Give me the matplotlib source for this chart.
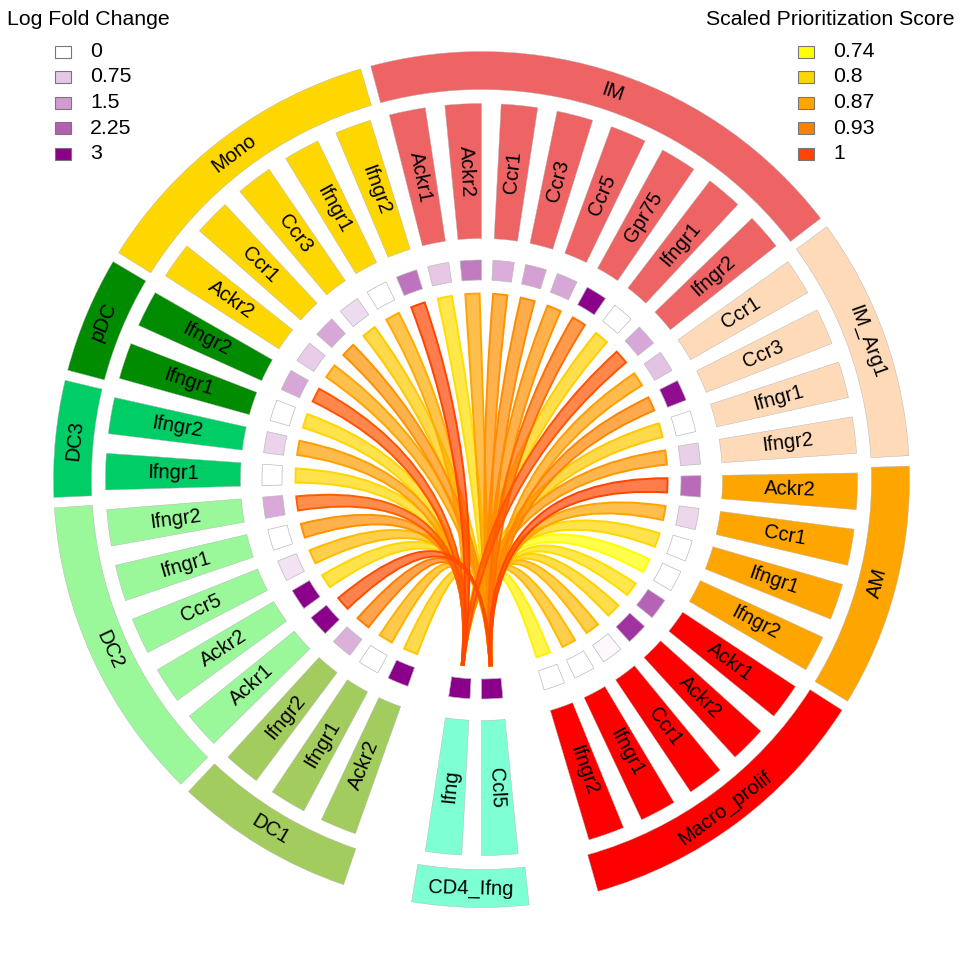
import numpy as np
import matplotlib
matplotlib.use("Agg")
import matplotlib.pyplot as plt
from matplotlib.patches import Wedge, PathPatch, Rectangle
from matplotlib.path import Path
from matplotlib.colors import LinearSegmentedColormap, to_rgba

plt.rcParams['font.family'] = ['Liberation Sans', 'DejaVu Sans']

# cell types, clockwise from the sender (ligand) sector at the bottom
sectors = ['CD4_Ifng', 'DC1', 'DC2', 'DC3', 'pDC', 'Mono', 'IM', 'IM_Arg1', 'AM', 'Macro_prolif']
sector_colors = ['#7FFFD4', '#A3CC5E', '#9AF89A', '#00CD66', '#008B00', '#FFD700',
                 '#EE6363', '#FFDAB9', '#FFA500', '#FF0000']
genes_per_sector = [2, 3, 5, 2, 2, 5, 8, 4, 4, 5]

genes = ['Ccl5', 'Ifng',
         'Ackr2', 'Ifngr1', 'Ifngr2',
         'Ackr1', 'Ackr2', 'Ccr5', 'Ifngr1', 'Ifngr2',
         'Ifngr1', 'Ifngr2',
         'Ifngr1', 'Ifngr2',
         'Ackr2', 'Ccr1', 'Ccr3', 'Ifngr1', 'Ifngr2',
         'Ackr1', 'Ackr2', 'Ccr1', 'Ccr3', 'Ccr5', 'Gpr75', 'Ifngr1', 'Ifngr2',
         'Ccr1', 'Ccr3', 'Ifngr1', 'Ifngr2',
         'Ackr2', 'Ccr1', 'Ifngr1', 'Ifngr2',
         'Ackr1', 'Ackr2', 'Ccr1', 'Ifngr1', 'Ifngr2']

log_fc = [3.0, 3.0,
          3.0, 0.0, 1.15,
          3.0, 3.0, 0.4, 0.0, 1.25,
          0.0, 0.6,
          0.0, 1.3,
          0.7, 1.3, 0.5, 0.0, 2.0,
          0.75, 1.9, 1.2, 1.4, 1.3, 3.0, 0.0, 1.3,
          0.85, 2.9, 0.0, 0.65,
          2.1, 0.55, 0.0, 0.0,
          2.2, 2.6, 0.1, 0.0, 0.0]

# scaled prioritization score of the link into each receptor (ligands: None)
prior_score = [None, None,
               0.82, 0.85, 0.93,
               0.99, 0.80, 0.84, 0.90, 0.97,
               0.80, 0.88,
               0.80, 0.98,
               0.87, 0.90, 0.82, 0.86, 1.00,
               0.79, 0.87, 0.90, 0.91, 0.90, 0.95, 0.81, 0.98,
               0.88, 0.92, 0.82, 0.89,
               1.00, 0.87, 0.80, 0.74,
               0.79, 0.81, 0.84, 0.84, 0.76]

lfc_ticks = [0, 0.75, 1.5, 2.25, 3]
lfc_tick_colors = ['#FFFFFF', '#E6C8E6', '#D29BD2', '#B35FB3', '#8B008B']
score_ticks = [0.74, 0.8, 0.87, 0.93, 1]
score_tick_colors = ['#FFFF00', '#FFD700', '#FFA500', '#FF7F00', '#FF4500']

lfc_cmap = LinearSegmentedColormap.from_list(
    'lfc', [(v / 3, c) for v, c in zip(lfc_ticks, lfc_tick_colors)])
s0, s1 = score_ticks[0], score_ticks[-1]
score_cmap = LinearSegmentedColormap.from_list(
    'score', [((v - s0) / (s1 - s0), c) for v, c in zip(score_ticks, score_tick_colors)])

# layout (pixels)
W, H = 962, 960
cx, cy = 481.5, 479.5
gene_w, gap_gene, gap_big = 5.6, 3.0, 11.0
start = 275.6
R_ring_out, R_ring_in = 428, 390
R_box_out, R_box_in = 376, 241
R_lfc_out, R_lfc_in = 219.5, 199.5
R_link = 186

spans = []
gene_sector = []
theta = start
for k, n in enumerate(genes_per_sector):
    if k == 1:
        theta -= gap_big
    elif k > 0:
        theta -= gap_gene
    for j in range(n):
        if j > 0:
            theta -= gap_gene
        spans.append((theta - gene_w, theta))
        gene_sector.append(k)
        theta -= gene_w


def pol(r, a):
    t = np.radians(a)
    return np.array([r * np.cos(t), r * np.sin(t)])


def px(x, y):
    return x - cx, cy - y


def ctrl(p, q, h):
    # control point of a quadratic curve whose middle sits h away from chord p-q
    m = (p + q) / 2
    d = np.hypot(*m)
    if d < 1e-6:
        return m
    return m - 2 * h * m / d


fig = plt.figure(figsize=(W / 100, H / 100), dpi=100)
ax = fig.add_axes([0, 0, 1, 1])
ax.set_xlim(-cx, W - cx)
ax.set_ylim(-(H - cy), cy)
ax.axis('off')

# outer cell type ring
for k, name in enumerate(sectors):
    idx = [i for i, s in enumerate(gene_sector) if s == k]
    lo = spans[idx[-1]][0] - 0.8
    hi = spans[idx[0]][1] + 0.8
    ax.add_patch(Wedge((0, 0), R_ring_out, lo, hi, width=R_ring_out - R_ring_in,
                       facecolor=sector_colors[k], edgecolor='#B0B0B0', lw=0.3))
    m = (lo + hi) / 2 % 360
    rot = m - 90 if m <= 180 else m + 90
    x, y = pol((R_ring_out + R_ring_in) / 2, m)
    ax.text(x, y, name, rotation=rot, rotation_mode='anchor', ha='center',
            va='center', fontsize=14.5)

# gene boxes and log fold change cells
for i, g in enumerate(genes):
    lo, hi = spans[i]
    ax.add_patch(Wedge((0, 0), R_box_out, lo, hi, width=R_box_out - R_box_in,
                       facecolor=sector_colors[gene_sector[i]], edgecolor='#B0B0B0', lw=0.3))
    m = (lo + hi) / 2 % 360
    rot = m - 180 if 90 < m < 270 else m
    x, y = pol((R_box_out + R_box_in) / 2, m)
    ax.text(x, y, g, rotation=rot, rotation_mode='anchor', ha='center',
            va='center', fontsize=14.5)
    ax.add_patch(Wedge((0, 0), R_lfc_out, lo, hi, width=R_lfc_out - R_lfc_in,
                       facecolor=lfc_cmap(min(log_fc[i], 3) / 3), edgecolor='#BBBBBB', lw=0.5))

# links ligand -> receptor
lig_mid = {g: (spans[i][0] + spans[i][1]) / 2 for i, g in enumerate(genes[:2])}
order = sorted(range(2, len(genes)), key=lambda i: prior_score[i])
for i in order:
    lo, hi = spans[i]
    m = (lo + hi) / 2
    a1, a2 = m - 2.2, m + 2.2
    lig = 'Ifng' if genes[i].startswith('Ifngr') else 'Ccl5'
    b1, b2 = lig_mid[lig] - 0.3, lig_mid[lig] + 0.3
    dtheta = abs((lig_mid[lig] - m + 180) % 360 - 180)
    h = 0.5 * R_link * np.cos(np.radians(dtheta / 2))
    A1, A2, B1, B2 = (pol(R_link, a) for a in (a1, a2, b1, b2))
    arc_a = [pol(R_link, a) for a in np.linspace(a1, a2, 12)]
    verts = arc_a + [ctrl(A2, B1, h), B1, B2, ctrl(B2, A1, h), A1, A1]
    codes = ([Path.MOVETO] + [Path.LINETO] * 11 + [Path.CURVE3, Path.CURVE3, Path.LINETO,
             Path.CURVE3, Path.CURVE3, Path.CLOSEPOLY])
    col = score_cmap((prior_score[i] - s0) / (s1 - s0))
    fill = to_rgba(col, 0.7)
    ax.add_patch(PathPatch(Path(verts, codes), facecolor=fill, edgecolor=col, lw=1.4))

# legends
ax.text(*px(7, 25), 'Log Fold Change', fontsize=15.3, ha='left', va='baseline')
ax.text(*px(706, 25), 'Scaled Prioritization Score', fontsize=15.3, ha='left', va='baseline')
for j in range(5):
    yc = 51.5 + 25.5 * j
    ax.add_patch(Rectangle(px(55, yc + 6), 15.7, 12, facecolor=lfc_tick_colors[j],
                           edgecolor='#777777', lw=0.8))
    ax.text(*px(90, yc), f'{lfc_ticks[j]:g}', fontsize=15.3, ha='left', va='center')
    ax.add_patch(Rectangle(px(798.3, yc + 6), 15.7, 12, facecolor=score_tick_colors[j],
                           edgecolor='#777777', lw=0.8))
    ax.text(*px(833, yc), f'{score_ticks[j]:g}', fontsize=15.3, ha='left', va='center')

fig.savefig('out.png', dpi=100)
